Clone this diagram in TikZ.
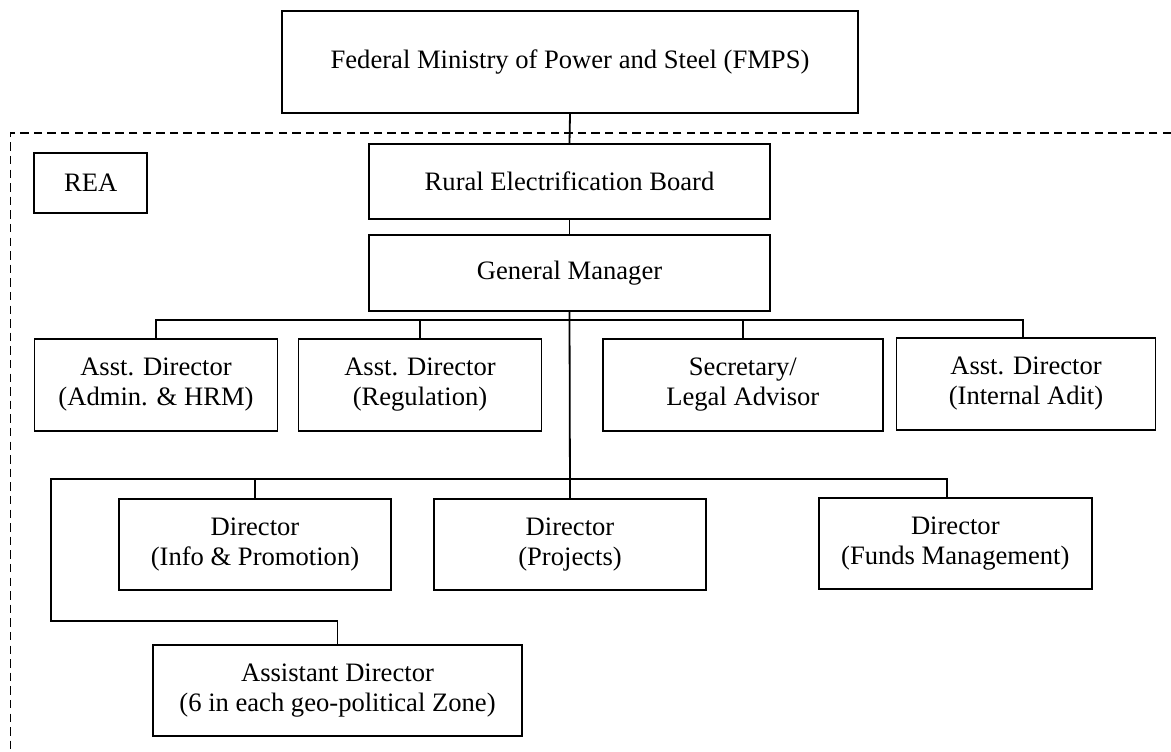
\documentclass[tikz,border=0pt]{standalone}
\usepackage{fontspec}
\setmainfont{Liberation Serif}
\usepackage{tikz}
\usetikzlibrary{positioning,calc}
\tikzset{
	blk/.style={draw, line width=0.95pt, align=center, inner sep=2pt,
		font=\fontsize{13.3}{15}\selectfont},
	wire/.style={line width=0.9pt},
	frame/.style={line width=0.7pt, dash pattern=on 4.2pt off 2.6pt},
}

\begin{document}
\begin{tikzpicture}[x=0.5pt, y=-0.5pt]
				\useasboundingbox (0,0) rectangle (1171,751);
				% top level and the REA block
				\node[blk, minimum width=288pt, minimum height=51pt] at (570,62) (fmps) {Federal Ministry of Power and Steel (FMPS)};
				\node[blk, minimum width=56.5pt, minimum height=30pt] at (90.7,183) (rea) {REA};
				\node[blk, minimum width=200.5pt, minimum height=37.5pt] at (569.5,181.5) (reb) {Rural Electrification Board};
				\node[blk, minimum width=200.5pt, minimum height=38pt] at (569.5,273) (gm) {General Manager};
				% first row
				\node[blk, minimum width=121.5pt, minimum height=46pt] at (156,385) (admin) {Asst. Director\\(Admin. \& HRM)};
				\node[blk, minimum width=121.5pt, minimum height=46pt] at (420,385) (regul) {Asst. Director\\(Regulation)};
				\node[blk, minimum width=140.2pt, minimum height=46pt] at (742.8,385) (secr) {Secretary/\\Legal Advisor};
				\node[blk, minimum width=129.5pt, minimum height=46pt] at (1026,384) (audit) {Asst. Director\\(Internal Adit)};
				% directors
				\node[blk, minimum width=136pt, minimum height=45.5pt] at (255,544.5) (info) {Director\\(Info \& Promotion)};
				\node[blk, minimum width=136.2pt, minimum height=45.5pt] at (570,544.5) (proj) {Director\\(Projects)};
				\node[blk, minimum width=136.7pt, minimum height=45.5pt] at (955.3,543.5) (funds) {Director\\(Funds Management)};
				\node[blk, minimum width=184.5pt, minimum height=45.5pt] at (337.5,690.5) (azone) {Assistant Director\\(6 in each geo-political Zone)};
				% bus points
				\coordinate (bus1) at (570,320);
				\coordinate (bus2) at (51,479);
				\coordinate (elbow) at (51,621);
				\coordinate (fr) at (1171,133);
				\coordinate (fl) at (10.7,133);
				\coordinate (fb) at (10.7,751);
				% dashed REA boundary
				\draw[frame] (fr) -- (fl) -- (fb);
				% connectors
				\draw[wire] (fmps.south) -- (reb.north);
				\draw[wire] (reb.south) -- (gm.north);
				\draw[wire] (gm.south) -- (proj.north);
				\draw[wire] (admin.north) |- (bus1) -| ([xshift=-1.5pt]audit.north);
				\draw[wire] (regul.north) -- (regul.north |- bus1);
				\draw[wire] (secr.north) -- (secr.north |- bus1);
				\draw[wire] (azone.north) |- (elbow) -- (bus2) -| ([xshift=-4pt]funds.north);
				\draw[wire] (info.north) -- (info.north |- bus2);
			\end{tikzpicture}
\end{document}
